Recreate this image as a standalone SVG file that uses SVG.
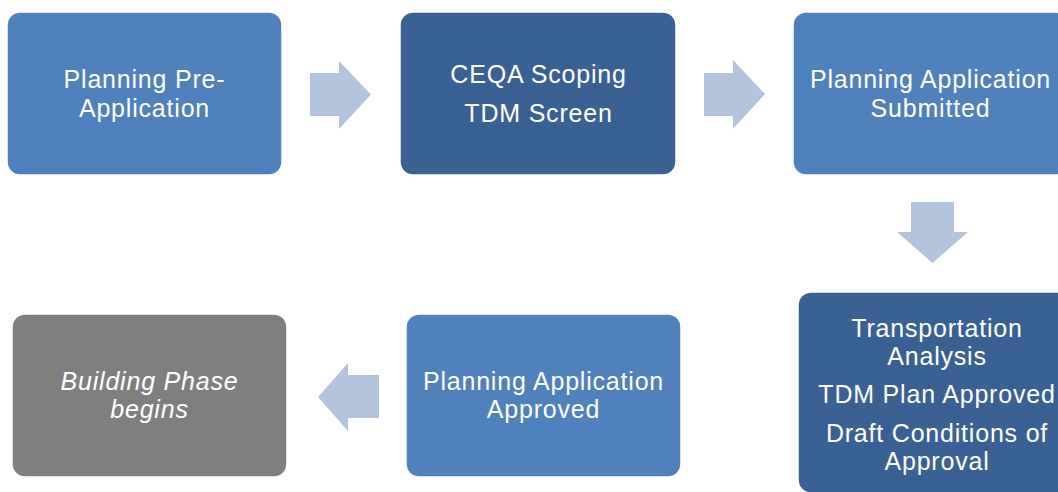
<svg xmlns="http://www.w3.org/2000/svg" width="1058" height="492" viewBox="0 0 1058 492">
<style>
.box{stroke:#ffffff;stroke-width:1.5}
.light{fill:#4f81bd}
.dark{fill:#3a6193}
.gray{fill:#7f7f7f}
.arrow{fill:#b3c3de}
text{font-family:"Liberation Sans",Arial,sans-serif;font-size:25px;fill:#ffffff;text-anchor:middle;letter-spacing:0.8px}
.it{font-style:italic}
</style>
<rect width="1058" height="492" fill="#ffffff"/>
<g id="connectors">
<polygon class="arrow" points="310,73 339,73 339,61 371,94.5 339,129 339,116 310,116"/>
<polygon class="arrow" points="704,73 733,73 733,60 765,94 733,129 733,116 704,116"/>
<polygon class="arrow" points="911,202 954,202 954,232 968,232 932.5,263 897,232 911,232"/>
<polygon class="arrow" points="379,375 348,375 348,363 318,397 348,431 348,418 379,418"/>
</g>
<g id="node-pre-application">
<rect class="box light" x="7" y="12" width="275" height="163" rx="13"/>
<text x="144.5" y="88">Planning Pre-</text>
<text x="144.5" y="117">Application</text>
</g>
<g id="node-ceqa">
<rect class="box dark" x="400" y="12" width="276" height="163" rx="13"/>
<text x="538.5" y="83">CEQA Scoping</text>
<text x="538.5" y="121.5">TDM Screen</text>
</g>
<g id="node-submitted">
<rect class="box light" x="793" y="12" width="275" height="163" rx="13"/>
<text x="930.5" y="88">Planning Application</text>
<text x="930.5" y="117">Submitted</text>
</g>
<g id="node-transportation">
<rect class="box dark" x="798" y="292" width="275" height="201" rx="13"/>
<text x="937" y="337">Transportation</text>
<text x="937" y="365">Analysis</text>
<text x="937" y="403">TDM Plan Approved</text>
<text x="937" y="441.5">Draft Conditions of</text>
<text x="937" y="469.5">Approval</text>
</g>
<g id="node-approved">
<rect class="box light" x="406" y="314" width="275" height="163" rx="13"/>
<text x="543.5" y="390">Planning Application</text>
<text x="543.5" y="418">Approved</text>
</g>
<g id="node-building">
<rect class="box gray" x="12" y="314" width="275" height="163" rx="13"/>
<text class="it" x="149.5" y="390">Building Phase</text>
<text class="it" x="149.5" y="418">begins</text>
</g>
</svg>
